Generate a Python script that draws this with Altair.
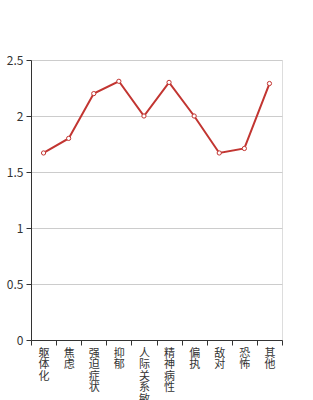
import altair as alt
import pandas as pd

categories = ["躯体化", "焦虑", "强迫症状", "抑郁", "人际关系敏感", "精神病性", "偏执", "敌对", "恐怖", "其他"]
values = [1.67, 1.80, 2.20, 2.31, 2.00, 2.30, 2.00, 1.67, 1.71, 2.29]

df = pd.DataFrame({"cat": categories, "val": values})

FONT = "Noto Sans CJK SC"
RED = "#c23531"

x = alt.X("cat:N", sort=None, title=None,
          scale=alt.Scale(paddingInner=0, paddingOuter=0),
          axis=alt.Axis(labelAngle=0, labelExpr="split(datum.label, '')",
                        tickBand="extent", labelLineHeight=11.5, labelFontSize=11,
                        labelColor="#333", labelFont=FONT, labelBaseline="top",
                        labelPadding=2, tickSize=5, tickColor="#333",
                        domainColor="#333", grid=False))
y = alt.Y("val:Q", title=None,
          scale=alt.Scale(domain=[0, 2.5], nice=False),
          axis=alt.Axis(values=[0, 0.5, 1, 1.5, 2, 2.5], format="~g",
                        labelFontSize=12, labelColor="#333", labelFont=FONT,
                        labelPadding=3, tickSize=5, tickColor="#333",
                        domainColor="#333", gridColor="#cccccc", grid=True))

line = alt.Chart(df).mark_line(color=RED, strokeWidth=2).encode(x=x, y=y)
pts = alt.Chart(df).mark_point(filled=True, fill="white", stroke=RED, strokeWidth=1,
                               size=18, opacity=1, shape="circle").encode(x=x, y=y)

chart = (line + pts).properties(
    width=251, height=280,
    autosize=alt.AutoSizeParams(type="none"),
    padding={"left": 31, "top": 60, "right": 31, "bottom": 60},
).configure_view(stroke=None).configure(background="white")

chart.save("out.html", embed_options={"renderer": "svg", "actions": False})
